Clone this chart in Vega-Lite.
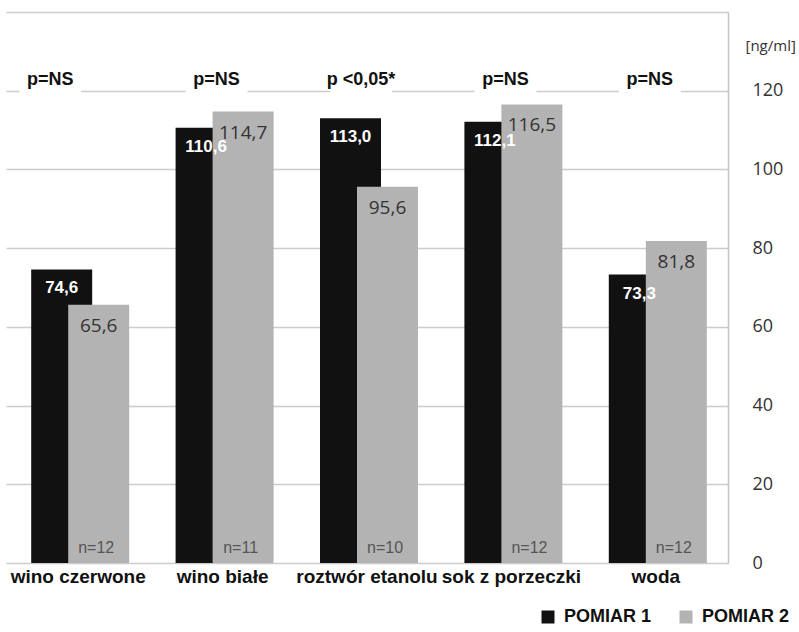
{
  "$schema": "https://vega.github.io/schema/vega-lite/v6.json",
  "width": 722,
  "height": 551,
  "autosize": {"type": "none"},
  "padding": {"left": 6, "top": 12, "right": 71, "bottom": 69},
  "background": "white",
  "config": {
    "view": {"stroke": null},
    "locale": {"number": {"decimal": ",", "thousands": " ", "grouping": [3], "currency": ["", ""]}}
  },
  "datasets": {
    "bars": [
      {"kategoria": "wino czerwone", "pomiar": "POMIAR 1", "wartosc": 74.6, "n": 12},
      {"kategoria": "wino czerwone", "pomiar": "POMIAR 2", "wartosc": 65.6, "n": 12},
      {"kategoria": "wino białe", "pomiar": "POMIAR 1", "wartosc": 110.6, "n": 11},
      {"kategoria": "wino białe", "pomiar": "POMIAR 2", "wartosc": 114.7, "n": 11},
      {"kategoria": "roztwór etanolu", "pomiar": "POMIAR 1", "wartosc": 113.0, "n": 10},
      {"kategoria": "roztwór etanolu", "pomiar": "POMIAR 2", "wartosc": 95.6, "n": 10},
      {"kategoria": "sok z porzeczki", "pomiar": "POMIAR 1", "wartosc": 112.1, "n": 12},
      {"kategoria": "sok z porzeczki", "pomiar": "POMIAR 2", "wartosc": 116.5, "n": 12},
      {"kategoria": "woda", "pomiar": "POMIAR 1", "wartosc": 73.3, "n": 12},
      {"kategoria": "woda", "pomiar": "POMIAR 2", "wartosc": 81.8, "n": 12}
    ],
    "pvals": [
      {"kategoria": "wino czerwone", "p": "p=NS"},
      {"kategoria": "wino białe", "p": "p=NS"},
      {"kategoria": "roztwór etanolu", "p": "p <0,05*"},
      {"kategoria": "sok z porzeczki", "p": "p=NS"},
      {"kategoria": "woda", "p": "p=NS"}
    ]
  },
  "data": {"name": "bars"},
  "encoding": {
    "x": {
      "field": "kategoria",
      "type": "nominal",
      "sort": ["wino czerwone", "wino białe", "roztwór etanolu", "sok z porzeczki", "woda"],
      "scale": {"paddingInner": 0, "paddingOuter": 0},
      "axis": {
        "title": null,
        "domain": false,
        "ticks": false,
        "labelAngle": 0,
        "labelFont": "Liberation Sans",
        "labelFontWeight": "bold",
        "labelFontSize": 19,
        "labelColor": "#111111",
        "labelPadding": 4,
        "labelOverlap": false,
        "labelBound": false,
        "labelLimit": 0
      }
    }
  },
  "layer": [
    {
      "transform": [{"filter": "datum.pomiar == 'POMIAR 1'"}],
      "mark": {"type": "bar", "width": 61, "xOffset": -16.5},
      "encoding": {
        "y": {
          "field": "wartosc",
          "type": "quantitative",
          "scale": {"domain": [0, 140]},
          "axis": {
            "orient": "right",
            "values": [0, 20, 40, 60, 80, 100, 120, 140],
            "labelExpr": "datum.value == 140 ? '' : datum.label",
            "title": "[ng/ml]",
            "titleAngle": 0,
            "titleX": 17,
            "titleY": 33,
            "titleAlign": "left",
            "titleBaseline": "middle",
            "titleFont": "Open Sans",
            "titleFontSize": 15,
            "titleFontWeight": "normal",
            "titleColor": "#333333",
            "labelFont": "Open Sans",
            "labelFontSize": 18,
            "labelColor": "#333333",
            "labelPadding": 24,
            "ticks": false,
            "domainColor": "#c4c4c4",
            "domainWidth": 1.5,
            "gridColor": "#cccccc",
            "gridWidth": 1.5
          }
        },
        "color": {
          "field": "pomiar",
          "type": "nominal",
          "scale": {"domain": ["POMIAR 1", "POMIAR 2"], "range": ["#111111", "#b3b3b3"]},
          "legend": {
            "title": null,
            "orient": "none",
            "legendX": 533,
            "legendY": 596,
            "direction": "horizontal",
            "symbolType": "square",
            "symbolSize": 169,
            "symbolStrokeWidth": 0,
            "labelFont": "Liberation Sans",
            "labelFontWeight": "bold",
            "labelFontSize": 18,
            "labelColor": "#111111",
            "labelOffset": 7,
            "columnPadding": 25
          }
        }
      }
    },
    {
      "transform": [{"filter": "datum.pomiar == 'POMIAR 2'"}],
      "mark": {"type": "bar", "width": 61, "xOffset": 20.5},
      "encoding": {
        "y": {"field": "wartosc", "type": "quantitative"},
        "color": {"field": "pomiar", "type": "nominal"}
      }
    },
    {
      "transform": [{"filter": "datum.pomiar == 'POMIAR 1'"}],
      "mark": {"type": "text", "xOffset": -16.5, "dy": 19, "baseline": "middle", "color": "#ffffff", "font": "Liberation Sans", "fontWeight": "bold", "fontSize": 17},
      "encoding": {
        "y": {"field": "wartosc", "type": "quantitative"},
        "text": {"field": "wartosc", "type": "quantitative", "format": ".1f"}
      }
    },
    {
      "transform": [{"filter": "datum.pomiar == 'POMIAR 2'"}],
      "mark": {"type": "text", "xOffset": 20.5, "dy": 21, "baseline": "middle", "color": "#333333", "font": "Open Sans", "fontSize": 19},
      "encoding": {
        "y": {"field": "wartosc", "type": "quantitative"},
        "text": {"field": "wartosc", "type": "quantitative", "format": ".1f"}
      }
    },
    {
      "transform": [{"filter": "datum.pomiar == 'POMIAR 2'"}, {"calculate": "'n=' + datum.n", "as": "nlab"}],
      "mark": {"type": "text", "xOffset": 18, "dy": -7, "baseline": "bottom", "color": "#555555", "font": "Liberation Sans", "fontSize": 16},
      "encoding": {
        "y": {"datum": 0, "type": "quantitative"},
        "text": {"field": "nlab", "type": "nominal"}
      }
    },
    {
      "data": {"name": "pvals"},
      "transform": [{"filter": "datum.kategoria == 'wino czerwone'"}],
      "mark": {"type": "bar", "width": 62, "xOffset": -28, "color": "#ffffff"},
      "encoding": {
        "y": {"datum": 126, "type": "quantitative"},
        "y2": {"datum": 119.4}
      }
    },
    {
      "data": {"name": "pvals"},
      "transform": [{"filter": "datum.kategoria != 'wino czerwone'"}],
      "mark": {"type": "bar", "width": 62, "xOffset": -6, "color": "#ffffff"},
      "encoding": {
        "y": {"datum": 126, "type": "quantitative"},
        "y2": {"datum": 119.4}
      }
    },
    {
      "data": {"name": "pvals"},
      "transform": [{"filter": "datum.kategoria == 'wino czerwone'"}],
      "mark": {"type": "text", "xOffset": -28, "baseline": "middle", "color": "#111111", "font": "Liberation Sans", "fontWeight": "bold", "fontSize": 18},
      "encoding": {
        "y": {"datum": 122.7, "type": "quantitative"},
        "text": {"field": "p", "type": "nominal"}
      }
    },
    {
      "data": {"name": "pvals"},
      "transform": [{"filter": "datum.kategoria != 'wino czerwone'"}],
      "mark": {"type": "text", "xOffset": -6, "baseline": "middle", "color": "#111111", "font": "Liberation Sans", "fontWeight": "bold", "fontSize": 18},
      "encoding": {
        "y": {"datum": 122.7, "type": "quantitative"},
        "text": {"field": "p", "type": "nominal"}
      }
    }
  ]
}
